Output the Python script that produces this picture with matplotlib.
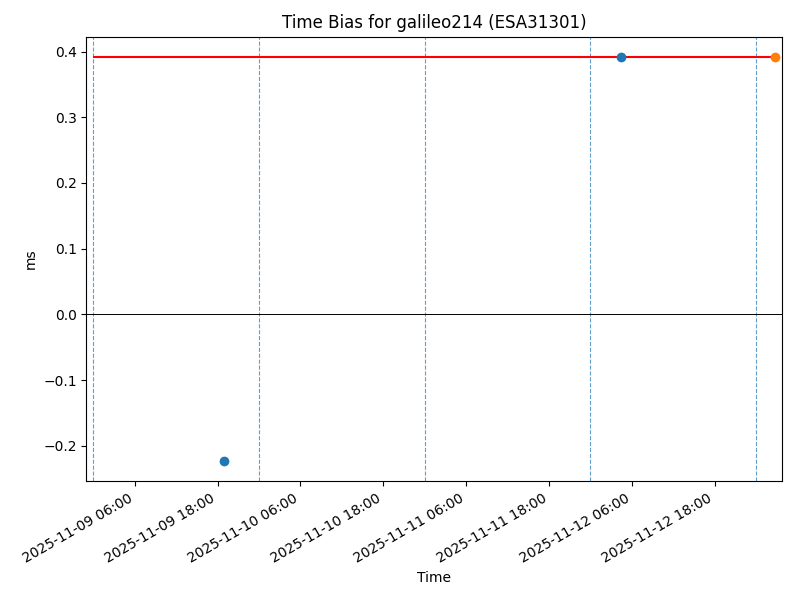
import numpy as np
import pandas as pd
import matplotlib
matplotlib.use('Agg')
import matplotlib.pyplot as plt
import matplotlib.dates as mdates

# measurement times and time bias (ms)
times = pd.to_datetime(['2025-11-09 18:55', '2025-11-12 04:30'])
bias = [-0.223, 0.392]

# latest value
last_time = pd.to_datetime(['2025-11-13 02:50'])
last_bias = [0.392]

# reference level and its span
ref_level = 0.392
ref_start = pd.Timestamp('2025-11-09 00:00')
ref_end = pd.Timestamp('2025-11-13 02:50')

# day boundaries
days = pd.date_range('2025-11-09', '2025-11-13', freq='D')

fig, ax = plt.subplots(figsize=(8, 6), dpi=100)

for d in days:
    ax.axvline(d, color='C0', linestyle='--', linewidth=0.8, alpha=0.7)
ax.axhline(0, color='black', linewidth=0.7)
ax.hlines(ref_level, ref_start, ref_end, color='red', linewidth=1.5)
ax.plot(times, bias, 'o', color='C0')
ax.plot(last_time, last_bias, 'o', color='C1')

ax.set_xlim(ref_start - pd.Timedelta(hours=1), ref_end + pd.Timedelta(hours=1))
ax.xaxis.set_major_locator(mdates.HourLocator(byhour=[6, 18]))
ax.xaxis.set_major_formatter(mdates.DateFormatter('%Y-%m-%d %H:%M'))

ax.set_title('Time Bias for galileo214 (ESA31301)')
ax.set_xlabel('Time')
ax.set_ylabel('ms')
fig.autofmt_xdate()
fig.subplots_adjust(left=0.108, right=0.978, top=0.939, bottom=0.198)
fig.savefig('out.png')
